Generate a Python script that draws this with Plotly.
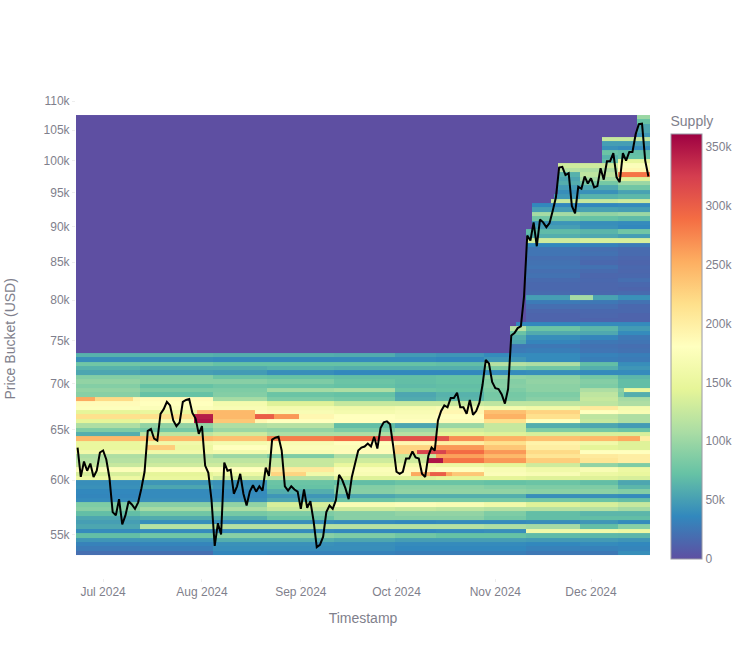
import numpy as np
import pandas as pd
import plotly.graph_objects as go

# BTC close, thousands of USD, by month
price_jun = [63.2,60.3,61.8,60.9,61.6,60.3,60.9,62.7]
price_jul = [62.9,62.0,60.2,57.0,56.7,58.2,55.9,56.7,58.0,57.7,57.3,57.9,59.2,60.8,64.9,65.1,64.1,63.9,66.7,67.2,68.0,67.6,66.0,65.4,65.8,68.0,68.2,68.3,66.8,66.2,64.6]
price_aug = [65.4,61.4,60.7,58.1,54.0,56.0,55.0,61.7,60.9,61.0,58.7,59.4,60.6,58.7,57.6,58.9,59.5,58.9,59.4,59.0,61.2,60.4,64.0,64.2,64.3,62.9,59.4,59.0,59.4,59.1,58.9]
price_sep = [57.3,59.1,57.4,58.0,56.2,53.9,54.1,54.8,57.0,57.6,57.3,58.1,60.5,60.0,59.2,58.2,60.3,61.6,62.9,63.2,63.3,63.6,63.3,64.3,63.1,65.2,65.8,65.9,65.6,63.3]
price_oct = [60.8,60.6,60.8,62.1,62.1,62.8,62.2,62.1,60.6,60.3,62.4,63.2,62.9,66.0,67.0,67.6,67.4,68.4,68.4,69.0,67.4,67.4,66.7,68.2,66.6,67.0,67.9,69.9,72.7,72.3,70.2]
price_nov = [69.5,69.4,68.8,67.8,69.4,75.6,75.9,76.5,76.7,80.5,88.7,88.0,90.6,87.2,91.0,90.6,89.9,90.5,92.3,94.3,98.9,99.0,97.7,98.0,93.0,91.9,95.9,95.6,97.5,96.4]
price_dec = [97.2,95.8,96.0,98.8,97.0,99.9,99.9,101.2,97.4,96.6,101.2,100.0,101.4,101.4,104.3,106.0,106.1,100.0,97.5]

# highest traded price reached so far (k USD), from that date onward
ath_dates = ["2024-06-23","2024-11-06","2024-11-08","2024-11-10","2024-11-11","2024-11-13","2024-11-19","2024-11-20","2024-11-21","2024-12-05","2024-12-16"]
ath_prices = [73.6,76.5,77.3,81.5,89.5,93.3,94.0,95.0,99.5,103.9,107.6]

# start date of each period used by the supply tables
period_starts = ["2024-06-23","2024-07-13","2024-08-05","2024-08-22","2024-09-12","2024-10-01","2024-10-14","2024-10-29","2024-11-11","2024-11-28","2024-12-10"]

# supply (k BTC) of the upper buckets, top down, for the last four periods
upper_supply = [
[0,0,0,100],[0,0,0,72],[0,0,0,55],[0,0,0,55],[0,0,0,45],[0,0,125,125],[0,0,50,50],[0,0,42,38],[0,0,75,70],
[0,0,62,72],[0,0,68,150],[0,130,130,175],[0,115,110,190],[0,62,120,285],[0,55,105,140],[0,60,80,100],[0,48,56,78],
[0,40,42,52],[0,46,62,66],[0,125,125,130],[0,36,36,38],[0,50,52,50],[0,105,95,100],[0,78,72,68],[0,44,40,38],
[0,50,42,36],[0,68,64,78],[0,60,56,50],[0,130,135,135],[0,36,32,28],[0,24,20,18],[0,24,22,18],[0,20,18,15],
[0,22,16,14],[0,24,22,16],[0,20,18,15],[0,22,15,16],[0,18,16,20],[0,16,15,16],[0,16,15,14],[0,18,16,18],
[0,50,52,42],[0,28,26,22],[0,20,20,16],[0,15,16,16],[0,13,15,13],[0,13,13,13],[36,36,38,38],[115,75,65,48],
[75,58,56,38],[60,40,34,26],[55,34,26,24],[25,26,22,20],[28,30,24,22],
]

# supply (k BTC) of the lower buckets, top down, for all eleven periods
lower_supply = [
[62,62,60,60,58,48,45,38,38,32,30],
[40,40,38,38,38,38,36,45,38,30,28],
[78,78,72,72,72,72,70,115,110,70,40],
[62,58,58,62,60,60,60,85,78,60,45],
[55,50,48,40,36,36,36,38,40,38,38],
[88,88,75,72,70,70,72,95,92,80,65],
[95,90,90,85,75,70,72,88,95,88,70],
[88,72,78,75,72,68,70,90,92,85,70],
[95,85,85,105,110,75,72,85,92,110,90],
[90,72,88,75,72,55,62,80,85,120,85],
[190,185,105,85,80,58,65,82,90,125,105],
[185,180,165,140,125,125,125,120,120,120,110],
[178,175,170,165,160,165,170,165,160,205,165],
[145,150,175,170,165,170,190,240,225,180,170],
[215,215,190,190,180,175,180,250,215,120,110],
[145,165,190,180,180,180,185,215,180,125,110],
[110,95,110,115,70,55,100,125,60,55,48],
[85,80,100,95,85,100,130,125,85,80,75],
[60,120,130,110,110,115,145,140,135,135,135],
[245,245,240,280,290,270,270,250,240,245,255],
[150,160,165,170,180,190,200,215,195,160,140],
[150,155,180,175,175,225,265,235,200,145,140],
[160,160,165,170,185,225,290,265,220,180,180],
[110,110,100,85,110,125,260,245,210,205,200],
[115,120,120,125,130,130,285,265,230,210,200],
[125,130,130,125,150,160,155,145,130,95,85],
[175,180,180,205,175,185,180,170,160,170,155],
[135,145,155,160,170,175,235,175,170,155,150],
[155,150,130,115,140,140,145,145,140,140,135],
[40,45,42,75,70,75,75,72,75,70,55],
[42,55,45,72,88,92,92,88,85,85,65],
[36,38,38,60,90,95,95,95,92,92,88],
[35,38,38,45,55,60,60,60,40,40,38],
[38,40,42,55,75,80,80,80,78,75,70],
[85,90,95,135,170,175,170,160,140,135,125],
[90,105,110,125,130,125,120,115,115,115,105],
[70,78,80,85,90,95,95,85,70,65,65],
[55,58,60,75,90,90,90,80,70,70,70],
[50,40,40,40,38,36,38,38,40,45,38],
[55,115,115,115,115,115,115,110,105,70,90],
[38,38,38,38,36,36,38,40,160,160,155],
[70,78,90,90,85,78,72,72,68,66,65],
[45,45,60,60,55,50,50,50,48,48,45],
[32,34,42,42,40,38,38,38,36,38,36],
[28,30,40,40,40,36,36,36,32,32,34],
[20,20,35,32,32,30,30,30,26,26,40],
]

# short local readings: bucket index from top, first day, last day, supply (k BTC)
local_readings = [
(64,"2024-06-23","2024-06-28",255),(64,"2024-06-29","2024-07-10",220),
(67,"2024-07-31","2024-08-17",245),
(68,"2024-07-30","2024-08-04",345),(68,"2024-08-05","2024-08-17",245),(68,"2024-08-18","2024-08-23",300),(68,"2024-08-24","2024-08-31",265),
(69,"2024-07-30","2024-08-04",350),(69,"2024-08-05","2024-08-17",235),
(75,"2024-07-15","2024-07-23",230),
(73,"2024-09-25","2024-10-17",310),(73,"2024-12-17","2024-12-19",200),
(76,"2024-10-08","2024-10-16",320),
(78,"2024-10-11","2024-10-15",350),
(81,"2024-10-06","2024-10-18",255),(81,"2024-10-12","2024-10-16",300),(81,"2024-08-23","2024-09-02",225),
(62,"2024-12-12","2024-12-19",150),(63,"2024-12-12","2024-12-19",60),
(41,"2024-11-25","2024-12-01",105),
]

price_top, price_bottom, bucket_count = 107560, 53200, 100
tick_prices = [55000,60000,65000,70000,75000,80000,85000,90000,95000,100000,105000,110000]
tick_labels = ["55k","60k","65k","70k","75k","80k","85k","90k","95k","100k","105k","110k"]
colorbar_ticks = [0,50000,100000,150000,200000,250000,300000,350000]
colorbar_labels = ["0","50k","100k","150k","200k","250k","300k","350k"]
month_ticks = ["2024-07-01","2024-08-01","2024-09-01","2024-10-01","2024-11-01","2024-12-01"]

close = np.array(price_jun+price_jul+price_aug+price_sep+price_oct+price_nov+price_dec)*1000
dates = pd.date_range("2024-06-23", periods=len(close), freq="D")
edges = np.geomspace(price_top, price_bottom, bucket_count+1)
centers = np.sqrt(edges[:-1]*edges[1:])

starts = pd.to_datetime(period_starts)
period_of_day = np.searchsorted(starts, dates, side="right")-1
z = np.zeros((bucket_count, len(dates)))
for k, row in enumerate(upper_supply):
    for d, p in enumerate(period_of_day):
        if p >= 7:
            z[k, d] = row[p-7]
for k, row in enumerate(lower_supply):
    z[k+len(upper_supply)] = np.array(row)[period_of_day]
for k, a, b, v in local_readings:
    z[k, (dates >= a) & (dates <= b)] = v
ath_d = pd.to_datetime(ath_dates)
ath_of_day = np.array(ath_prices)[np.searchsorted(ath_d, dates, side="right")-1]*1000
for k, c in enumerate(centers):
    z[k, ath_of_day < c] = 0
z = z*1000

fig = go.Figure()
fig.add_trace(go.Heatmap(
    x=dates, y=centers[::-1], z=z[::-1], zmin=0, zmax=361000, colorscale="Spectral_r",
    hoverinfo="skip",
    colorbar=dict(title=dict(text="Supply", side="top", font=dict(size=14, color="#7f7f8c")),
                  thickness=31, thicknessmode="pixels", len=446, lenmode="pixels",
                  x=1.0366, xanchor="left", xpad=0, y=0.04, yanchor="bottom", ypad=0,
                  tickvals=colorbar_ticks, ticktext=colorbar_labels,
                  outlinecolor="#9a9aa5", outlinewidth=1, ticks="",
                  tickfont=dict(size=12, color="#7f7f8c")),
))
fig.add_trace(go.Scatter(x=dates, y=close, mode="lines", line=dict(color="black", width=2),
                         showlegend=False, hoverinfo="skip"))
fig.update_layout(
    width=739, height=650, autosize=False, paper_bgcolor="white", plot_bgcolor="white",
    margin=dict(l=76, r=89, t=101, b=72, autoexpand=False), showlegend=False,
    font=dict(family="Liberation Sans, Arial, sans-serif", size=12, color="#7f7f8c"),
    xaxis=dict(title=dict(text="Timestamp", font=dict(size=14, color="#7f7f8c"), standoff=14),
               range=["2024-06-22 12:00", "2024-12-19 12:00"], tickvals=month_ticks, tickformat="%b %Y",
               ticks="outside", ticklen=3, tickcolor="#eeeeee", showgrid=False, zeroline=False, showline=False),
    yaxis=dict(type="log", range=[np.log10(51300), np.log10(110000)],
               tickvals=tick_prices, ticktext=tick_labels, ticks="outside", ticklen=3, tickcolor="#eeeeee",
               showgrid=True, gridcolor="#eeeeee", zeroline=False, showline=False),
    annotations=[dict(text="Price Bucket (USD)", xref="paper", yref="paper", x=-0.115, y=0.5, yshift=1,
                      xanchor="center", yanchor="middle", textangle=-90, showarrow=False,
                      font=dict(size=14, color="#7f7f8c"))],
)
fig.write_html("out.html", config={"displayModeBar": False},
               post_script="document.body.style.margin='0';document.body.style.overflow='hidden';")
